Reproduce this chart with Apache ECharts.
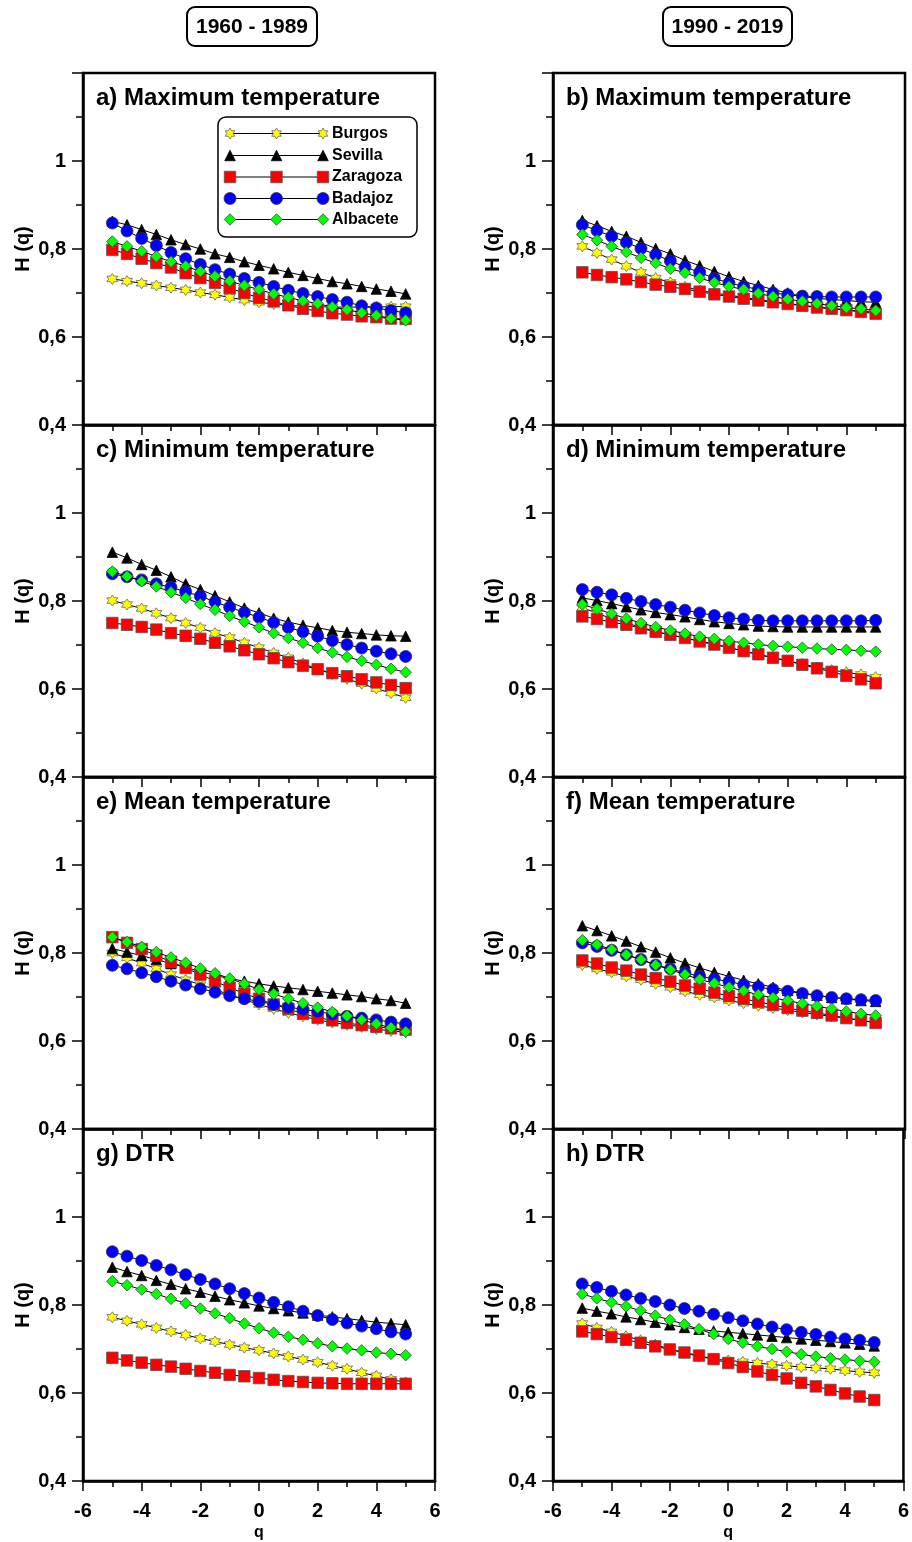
<!DOCTYPE html>
<html>
<head>
<meta charset="utf-8">
<script src="https://cdn.jsdelivr.net/npm/echarts@6/dist/echarts.min.js"></script>
<style>html,body{margin:0;padding:0;background:#fff}#c{width:912px;height:1542px}</style>
</head>
<body>
<div id="c"></div>
<script>
// ---------- DATA ----------
const q = [-5,-4.5,-4,-3.5,-3,-2.5,-2,-1.5,-1,-0.5,0,0.5,1,1.5,2,2.5,3,3.5,4,4.5,5];
const stations = ['Burgos','Sevilla','Zaragoza','Badajoz','Albacete'];
const yTickLabels = ['0,4','0,6','0,8','1'];
const periods = ['1960 - 1989','1990 - 2019'];
const panelTitles = ['a) Maximum temperature','b) Maximum temperature','c) Minimum temperature','d) Minimum temperature','e) Mean temperature','f) Mean temperature','g) DTR','h) DTR'];

// a) Maximum temperature 1960-1989
const a_burgos   = [0.732,0.727,0.722,0.717,0.712,0.707,0.701,0.696,0.690,0.684,0.679,0.675,0.672,0.670,0.669,0.668,0.668,0.668,0.668,0.669,0.669];
const a_sevilla  = [0.863,0.855,0.844,0.833,0.821,0.810,0.800,0.789,0.781,0.771,0.763,0.755,0.747,0.740,0.733,0.726,0.721,0.715,0.709,0.704,0.698];
const a_zaragoza = [0.798,0.789,0.778,0.768,0.758,0.745,0.734,0.723,0.711,0.700,0.689,0.681,0.672,0.664,0.659,0.654,0.651,0.647,0.645,0.642,0.641];
const a_badajoz  = [0.859,0.841,0.824,0.808,0.792,0.778,0.765,0.753,0.743,0.733,0.724,0.715,0.706,0.699,0.692,0.685,0.679,0.671,0.666,0.660,0.655];
const a_albacete = [0.817,0.806,0.795,0.783,0.771,0.761,0.749,0.738,0.727,0.717,0.708,0.698,0.690,0.682,0.676,0.668,0.662,0.655,0.649,0.642,0.638];
// b) Maximum temperature 1990-2019
const b_burgos   = [0.806,0.791,0.776,0.761,0.747,0.734,0.724,0.714,0.706,0.700,0.695,0.690,0.685,0.680,0.676,0.672,0.668,0.665,0.662,0.659,0.656];
const b_sevilla  = [0.865,0.853,0.840,0.829,0.815,0.801,0.789,0.774,0.762,0.749,0.737,0.726,0.717,0.708,0.700,0.692,0.688,0.685,0.683,0.680,0.679];
const b_zaragoza = [0.747,0.741,0.736,0.731,0.725,0.719,0.714,0.709,0.703,0.697,0.692,0.687,0.683,0.679,0.675,0.671,0.667,0.664,0.661,0.657,0.653];
const b_badajoz  = [0.855,0.842,0.829,0.815,0.801,0.787,0.773,0.759,0.747,0.733,0.723,0.715,0.708,0.700,0.696,0.693,0.692,0.691,0.691,0.691,0.691];
const b_albacete = [0.833,0.820,0.806,0.793,0.780,0.768,0.755,0.746,0.734,0.724,0.715,0.708,0.699,0.692,0.686,0.681,0.676,0.671,0.667,0.664,0.660];
// c) Minimum temperature 1960-1989
const c_burgos   = [0.801,0.792,0.783,0.772,0.761,0.750,0.739,0.727,0.717,0.705,0.694,0.682,0.671,0.658,0.645,0.634,0.623,0.612,0.601,0.591,0.580];
const c_sevilla  = [0.911,0.898,0.883,0.870,0.855,0.839,0.826,0.812,0.798,0.784,0.773,0.761,0.752,0.745,0.739,0.733,0.729,0.726,0.723,0.721,0.720];
const c_zaragoza = [0.750,0.746,0.741,0.735,0.727,0.721,0.714,0.705,0.697,0.688,0.679,0.670,0.661,0.653,0.645,0.636,0.629,0.622,0.615,0.609,0.602];
const c_badajoz  = [0.862,0.855,0.848,0.839,0.831,0.821,0.811,0.798,0.786,0.774,0.763,0.751,0.740,0.730,0.720,0.710,0.701,0.693,0.686,0.680,0.674];
const c_albacete = [0.867,0.856,0.845,0.833,0.820,0.807,0.793,0.780,0.766,0.753,0.740,0.727,0.716,0.705,0.693,0.683,0.673,0.664,0.655,0.646,0.638];
// d) Minimum temperature 1990-2019
const d_burgos   = [0.785,0.772,0.760,0.750,0.740,0.731,0.723,0.716,0.709,0.702,0.694,0.686,0.678,0.671,0.664,0.657,0.649,0.643,0.638,0.633,0.627];
const d_sevilla  = [0.807,0.801,0.794,0.787,0.780,0.774,0.769,0.764,0.758,0.753,0.749,0.746,0.743,0.742,0.741,0.741,0.741,0.741,0.741,0.741,0.741];
const d_zaragoza = [0.765,0.759,0.752,0.746,0.738,0.730,0.723,0.716,0.708,0.701,0.694,0.686,0.679,0.671,0.664,0.655,0.647,0.639,0.630,0.622,0.613];
const d_badajoz  = [0.826,0.820,0.814,0.806,0.799,0.792,0.786,0.779,0.773,0.767,0.762,0.759,0.756,0.755,0.755,0.755,0.755,0.755,0.755,0.755,0.756];
const d_albacete = [0.792,0.782,0.771,0.760,0.750,0.741,0.733,0.726,0.719,0.714,0.709,0.705,0.701,0.698,0.696,0.694,0.692,0.690,0.689,0.687,0.685];
// e) Mean temperature 1960-1989
const e_burgos   = [0.800,0.789,0.777,0.764,0.751,0.739,0.728,0.717,0.705,0.694,0.683,0.673,0.664,0.656,0.648,0.642,0.637,0.632,0.627,0.623,0.620];
const e_sevilla  = [0.810,0.802,0.794,0.785,0.776,0.767,0.758,0.749,0.742,0.736,0.730,0.725,0.721,0.717,0.713,0.709,0.705,0.701,0.696,0.692,0.686];
const e_zaragoza = [0.836,0.823,0.809,0.794,0.780,0.766,0.751,0.736,0.721,0.708,0.696,0.683,0.673,0.662,0.653,0.647,0.641,0.636,0.632,0.629,0.626];
const e_badajoz  = [0.772,0.764,0.755,0.746,0.736,0.727,0.719,0.711,0.703,0.696,0.690,0.683,0.677,0.672,0.667,0.661,0.656,0.652,0.648,0.643,0.639];
const e_albacete = [0.836,0.825,0.814,0.802,0.790,0.778,0.765,0.754,0.742,0.730,0.717,0.707,0.696,0.686,0.676,0.666,0.657,0.648,0.639,0.630,0.621];
// f) Mean temperature 1990-2019
const f_burgos   = [0.773,0.764,0.756,0.747,0.739,0.730,0.722,0.713,0.705,0.699,0.692,0.686,0.680,0.675,0.670,0.665,0.660,0.656,0.652,0.647,0.642];
const f_sevilla  = [0.862,0.851,0.839,0.827,0.814,0.802,0.789,0.777,0.766,0.756,0.747,0.738,0.730,0.722,0.715,0.709,0.704,0.699,0.696,0.692,0.690];
const f_zaragoza = [0.783,0.776,0.767,0.760,0.751,0.743,0.735,0.726,0.719,0.710,0.702,0.696,0.689,0.682,0.675,0.669,0.664,0.658,0.652,0.647,0.641];
const f_badajoz  = [0.823,0.815,0.806,0.796,0.785,0.773,0.764,0.755,0.747,0.741,0.735,0.728,0.723,0.717,0.713,0.708,0.703,0.699,0.696,0.694,0.692];
const f_albacete = [0.829,0.819,0.808,0.796,0.785,0.773,0.762,0.751,0.740,0.731,0.722,0.714,0.705,0.698,0.692,0.685,0.679,0.673,0.667,0.662,0.658];
// g) DTR 1960-1989
const g_burgos   = [0.772,0.764,0.756,0.748,0.740,0.732,0.724,0.717,0.710,0.703,0.697,0.690,0.683,0.676,0.670,0.662,0.655,0.646,0.639,0.631,0.624];
const g_sevilla  = [0.886,0.876,0.867,0.856,0.847,0.837,0.829,0.820,0.812,0.805,0.798,0.792,0.787,0.782,0.777,0.773,0.769,0.765,0.761,0.758,0.755];
const g_zaragoza = [0.680,0.674,0.669,0.664,0.660,0.655,0.650,0.646,0.641,0.638,0.634,0.630,0.627,0.625,0.623,0.622,0.621,0.621,0.621,0.621,0.621];
const g_badajoz  = [0.921,0.911,0.901,0.890,0.880,0.869,0.858,0.848,0.837,0.826,0.816,0.806,0.796,0.786,0.776,0.767,0.759,0.752,0.746,0.739,0.734];
const g_albacete = [0.854,0.845,0.835,0.825,0.814,0.804,0.792,0.781,0.770,0.758,0.747,0.737,0.728,0.721,0.713,0.706,0.701,0.697,0.692,0.689,0.686];
// h) DTR 1990-2019
const h_burgos   = [0.758,0.748,0.739,0.729,0.720,0.710,0.700,0.691,0.683,0.677,0.674,0.671,0.668,0.665,0.662,0.659,0.657,0.655,0.651,0.648,0.646];
const h_sevilla  = [0.793,0.786,0.780,0.773,0.767,0.761,0.755,0.749,0.745,0.741,0.738,0.735,0.732,0.729,0.726,0.723,0.720,0.717,0.714,0.711,0.707];
const h_zaragoza = [0.740,0.734,0.727,0.721,0.714,0.706,0.699,0.692,0.685,0.677,0.668,0.659,0.649,0.641,0.633,0.623,0.615,0.607,0.599,0.592,0.584];
const h_badajoz  = [0.848,0.840,0.831,0.823,0.815,0.808,0.800,0.792,0.786,0.779,0.771,0.764,0.757,0.750,0.744,0.738,0.733,0.727,0.723,0.720,0.715];
const h_albacete = [0.825,0.815,0.806,0.797,0.787,0.776,0.766,0.756,0.745,0.734,0.723,0.714,0.706,0.700,0.694,0.688,0.683,0.679,0.676,0.673,0.671];

const panels = [
  [a_burgos,a_sevilla,a_zaragoza,a_badajoz,a_albacete],
  [b_burgos,b_sevilla,b_zaragoza,b_badajoz,b_albacete],
  [c_burgos,c_sevilla,c_zaragoza,c_badajoz,c_albacete],
  [d_burgos,d_sevilla,d_zaragoza,d_badajoz,d_albacete],
  [e_burgos,e_sevilla,e_zaragoza,e_badajoz,e_albacete],
  [f_burgos,f_sevilla,f_zaragoza,f_badajoz,f_albacete],
  [g_burgos,g_sevilla,g_zaragoza,g_badajoz,g_albacete],
  [h_burgos,h_sevilla,h_zaragoza,h_badajoz,h_albacete]
];

// ---------- STYLE ----------
const FONT = '"Liberation Sans", Arial, sans-serif';
const STAR = 'path://M0,-10L2.89,-5L8.66,-5L5.77,0L8.66,5L2.89,5L0,10L-2.89,5L-8.66,5L-5.77,0L-8.66,-5L-2.89,-5Z';
const marker = [
  {symbol: STAR, size: 11, color: '#ffff00', border: '#666'},
  {symbol: 'triangle', size: 10.5, color: '#000000', border: '#000'},
  {symbol: 'rect', size: 11.5, color: '#ff0000', border: '#555'},
  {symbol: 'circle', size: 12, color: '#0000ff', border: '#333'},
  {symbol: 'diamond', size: 11.5, color: '#00ff00', border: '#444'}
];
const GL = [83, 553], GT0 = 73, GW = 352, GH = 352;

const grids = [], xAxes = [], yAxes = [], series = [], graphics = [];
panels.forEach((p, i) => {
  const col = i % 2, row = Math.floor(i / 2);
  const bottom = row === 3;
  grids.push({left: GL[col], top: GT0 + GH * row, width: GW, height: GH, show: true, borderColor: '#000', borderWidth: 2.5, backgroundColor: 'transparent'});
  xAxes.push({
    type: 'value', gridIndex: i, min: -6, max: 6, interval: 2,
    axisLine: {show: true, onZero: false, lineStyle: {color: '#000', width: 2.5}},
    axisTick: {show: true, length: 10, lineStyle: {color: '#000', width: 1.5}},
    minorTick: {show: true, splitNumber: 2, length: 6, lineStyle: {color: '#000', width: 1.5}},
    splitLine: {show: false},
    axisLabel: {show: bottom, fontFamily: FONT, fontWeight: 'bold', fontSize: 20, color: '#000', margin: 20},
    name: bottom ? 'q' : '', nameLocation: 'middle', nameGap: 44,
    nameTextStyle: {fontFamily: FONT, fontWeight: 'bold', fontSize: 16, color: '#000'}
  });
  yAxes.push({
    type: 'value', gridIndex: i, min: 0.4, max: 1.2, interval: 0.2,
    axisLine: {show: true, onZero: false, lineStyle: {color: '#000', width: 2.5}},
    axisTick: {show: true, length: 11, lineStyle: {color: '#000', width: 1.5}},
    minorTick: {show: true, splitNumber: 2, length: 7, lineStyle: {color: '#000', width: 1.5}},
    splitLine: {show: false},
    axisLabel: {fontFamily: FONT, fontWeight: 'bold', fontSize: 20, color: '#000', margin: 17,
      formatter: v => { const k = Math.round((v - 0.4) / 0.2); return yTickLabels[k] || ''; }},
    name: 'H (q)', nameLocation: 'middle', nameGap: 50,
    nameTextStyle: {fontFamily: FONT, fontWeight: 'bold', fontSize: 20, color: '#000'}
  });
  p.forEach((vals, s) => {
    const m = marker[s];
    series.push({
      type: 'line', name: stations[s], xAxisIndex: i, yAxisIndex: i,
      data: q.map((x, k) => [x, vals[k]]),
      symbol: m.symbol, symbolSize: m.size, showAllSymbol: true,
      lineStyle: {color: '#000', width: 1},
      itemStyle: {color: m.color, borderColor: m.border, borderWidth: 0.8},
      emphasis: {disabled: true}, animation: false, z: 2 + s
    });
  });
  graphics.push({type: 'text', x: GL[col] + 13, y: GT0 + GH * row + 25,
    style: {text: panelTitles[i], font: 'bold 24px ' + FONT, fill: '#000', align: 'left', verticalAlign: 'middle', textAlign: 'left', textVerticalAlign: 'middle'}, z: 10});
});

// period headers
[[187, 130], [663, 129]].forEach((b, i) => {
  graphics.push({type: 'rect', shape: {x: b[0], y: 7, width: b[1], height: 39, r: 8}, style: {fill: '#fff', stroke: '#000', lineWidth: 2}, z: 10});
  graphics.push({type: 'text', x: b[0] + b[1] / 2, y: 27, style: {text: periods[i], font: 'bold 21px ' + FONT, fill: '#000', align: 'center', verticalAlign: 'middle', textAlign: 'center', textVerticalAlign: 'middle'}, z: 11});
});

// legend (panel a)
function symGraphic(s, cx, cy) {
  const m = marker[s], st = {fill: m.color, stroke: m.border, lineWidth: 0.8};
  const r = m.size / 2;
  if (s === 0) {
    const pts = [];
    for (let k = 0; k < 12; k++) { const ang = -Math.PI / 2 + k * Math.PI / 6; const rr = k % 2 ? r * 0.58 : r; pts.push([cx + rr * Math.cos(ang), cy + rr * Math.sin(ang)]); }
    return {type: 'polygon', shape: {points: pts}, style: st, z: 12};
  }
  if (s === 1) return {type: 'polygon', shape: {points: [[cx, cy - r], [cx + r, cy + r], [cx - r, cy + r]]}, style: st, z: 12};
  if (s === 2) return {type: 'rect', shape: {x: cx - r, y: cy - r, width: 2 * r, height: 2 * r}, style: st, z: 12};
  if (s === 3) return {type: 'circle', shape: {cx: cx, cy: cy, r: r}, style: st, z: 12};
  return {type: 'polygon', shape: {points: [[cx, cy - r], [cx + r, cy], [cx, cy + r], [cx - r, cy]]}, style: st, z: 12};
}
graphics.push({type: 'rect', shape: {x: 218, y: 117, width: 199, height: 120, r: 8}, style: {fill: '#fff', stroke: '#000', lineWidth: 1.5}, z: 10});
const legRows = [133.5, 155.5, 177, 198.5, 219.5];
stations.forEach((name, s) => {
  const y = legRows[s];
  graphics.push({type: 'line', shape: {x1: 230, y1: y, x2: 323, y2: y}, style: {stroke: '#000', lineWidth: 1}, z: 11});
  [230, 276.5, 323].forEach(x => graphics.push(symGraphic(s, x, y)));
  graphics.push({type: 'text', x: 332, y: y, style: {text: name, font: 'bold 16px ' + FONT, fill: '#000', align: 'left', verticalAlign: 'middle', textAlign: 'left', textVerticalAlign: 'middle'}, z: 12});
});

const chart = echarts.init(document.getElementById('c'), null, {renderer: 'canvas'});
chart.setOption({
  animation: false,
  backgroundColor: '#fff',
  grid: grids, xAxis: xAxes, yAxis: yAxes, series: series,
  graphic: graphics
});
</script>
</body>
</html>
